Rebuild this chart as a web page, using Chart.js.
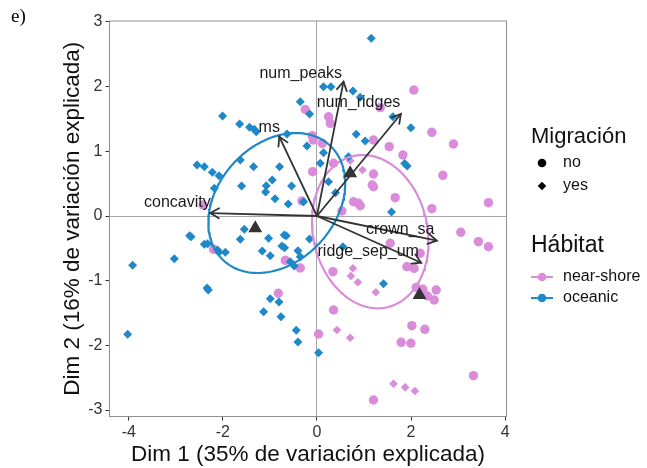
<!DOCTYPE html>
<html><head><meta charset="utf-8">
<script src="https://cdn.jsdelivr.net/npm/chart.js@4/dist/chart.umd.min.js"></script>
<style>html,body{margin:0;padding:0;background:#fff;}canvas{display:block}</style>
</head><body>
<canvas id="c" width="647" height="468"></canvas>
<script>
// ---- data (Dim 1, Dim 2) ----
const oceanicYesX = [-0.355,-0.157,-2.006,-1.644,-1.432,-1.332,-1.290,-0.637,-0.212,-1.629,-2.549,-2.394,-2.224,-2.082,-1.347,-0.795,-0.950,-1.077,-1.092,-0.540,-1.602,-2.182,-0.892,-0.610,1.154,0.140,0.297,0.765,0.920,1.615,1.997,0.835,1.026,0.140,0.070,0.671,1.865,1.918,0.246,0.395,1.585,-0.285,-1.544,-1.629,-1.028,-0.695,-0.652,-2.707,-2.677,-2.394,-2.324,-2.112,-2.082,-1.948,-1.162,-0.992,-0.744,-0.688,-0.404,-0.355,-0.157,-0.567,-0.482,-3.032,-3.918,-2.337,-2.309,-0.992,-0.807,-1.134,-0.765,-0.440,-0.404,-4.024,0.034,0.552,1.415];
const oceanicYesY = [1.767,1.577,1.546,1.423,1.372,1.341,1.304,1.268,1.082,0.866,0.789,0.762,0.676,0.623,0.762,0.762,0.557,0.469,0.371,0.464,0.464,0.428,0.268,0.186,2.748,1.999,1.999,1.933,1.835,1.535,1.365,1.263,1.160,0.979,0.815,0.917,0.812,0.773,0.530,0.360,0.062,0.221,-0.206,-0.360,-0.345,-0.294,-0.305,-0.305,-0.320,-0.438,-0.428,-0.526,-0.561,-0.561,-0.541,-0.614,-0.464,-0.490,-0.537,-0.629,-0.356,-0.707,-0.773,-0.660,-0.762,-1.113,-1.144,-1.279,-1.330,-1.480,-1.557,-1.767,-1.948,-1.829,-2.114,-0.475,-1.047];
const nearNoX = [-0.249,0.246,0.283,1.345,2.061,2.443,2.902,1.202,1.536,1.827,-0.079,-0.100,0.113,0.353,-0.093,1.202,1.175,1.202,2.677,1.663,0.778,0.884,0.920,0.531,2.443,3.646,-0.319,-2.422,-2.197,-0.673,-0.355,-0.822,0.034,3.059,3.433,3.646,1.557,2.195,1.912,2.067,0.340,2.110,2.252,2.535,2.350,2.492,0.353,2.018,2.294,1.791,1.997,3.327,1.202];
const nearNoY = [1.647,1.535,1.433,1.675,1.948,1.294,1.113,1.175,1.072,0.943,1.175,1.242,1.124,0.815,0.685,0.649,0.479,0.453,0.629,0.283,0.221,0.196,0.159,0.077,0.113,0.206,0.232,0.170,-0.515,-0.685,-0.804,-1.195,-1.825,-0.252,-0.397,-0.475,-0.422,-0.577,-0.784,-0.809,-0.861,-1.103,-1.133,-1.144,-1.237,-1.299,-1.454,-1.696,-1.752,-1.953,-1.968,-2.469,-2.845];
const nearYesX = [0.969,0.707,0.765,0.722,0.871,1.253,0.425,0.707,1.627,1.876,2.082];
const nearYesY = [0.711,0.855,-0.809,-0.928,-1.025,-1.180,-1.763,-1.882,-2.593,-2.649,-2.706];
// group mean points (triangles)
const meanX = [-1.311, 0.707, 2.180];
const meanY = [-0.190, 0.660, -1.222];
// variable loadings (arrows) and label anchors
const varNames = ['num_peaks','num_ridges','ms','concavity','crown_sa','ridge_sep_um'];
const varX = [0.565, 1.785, -0.801, -2.267, 2.549, 2.216];
const varY = [2.077, 1.577, 1.226, 0.046, -0.382, -0.722];
const labelX = [-0.344, 0.884, -1.013, -2.968, 1.770, 1.090];
const labelY = [2.196, 1.752, 1.361, 0.201, -0.216, -0.557];
// ellipses: centre x, centre y, x half-range, y half-range, phase
const ellipseOceanic = [-0.854, 0.201, 1.455, 1.082, 1.287];
const ellipseNear = [1.133, -0.242, 1.238, 1.185, 1.700];
const xTicks = [-4, -2, 0, 2, 4];
const yTicks = [-3, -2, -1, 0, 1, 2, 3];
const xTitle = 'Dim 1 (35% de variación explicada)';
const yTitle = 'Dim 2 (16% de variación explicada)';
const legendMig = ['Migración', 'no', 'yes'];
const legendHab = ['Hábitat', 'near-shore', 'oceanic'];

const PINK = '#DA8CDA', BLUE = '#1E88C8', DARK = '#333333';
const FONT = '"Liberation Sans", Arial, Helvetica, sans-serif';

const pts = (xs, ys) => xs.map((x, i) => ({x, y: ys[i]}));
function ellipsePts(p) {
  const out = [];
  const n = 160;
  for (let k = 0; k <= n; k++) {
    const t = 2 * Math.PI * k / n;
    out.push({x: p[0] + p[2] * Math.cos(t), y: p[1] + p[3] * Math.cos(t - p[4])});
  }
  return out;
}

const overlay = {
  id: 'overlay',
  afterDatasetsDraw(chart) {
    const {ctx, chartArea: a} = chart;
    const xs = chart.scales.x, ys = chart.scales.y;
    ctx.save();
    // panel border
    ctx.strokeStyle = '#8f8f8f';
    ctx.lineWidth = 1;
    ctx.strokeRect(a.left, a.top, a.right - a.left, a.bottom - a.top);
    // arrows
    const x0 = xs.getPixelForValue(0), y0 = ys.getPixelForValue(0);
    ctx.strokeStyle = DARK;
    ctx.lineWidth = 1.8;
    ctx.lineCap = 'round';
    for (let i = 0; i < varNames.length; i++) {
      const x1 = xs.getPixelForValue(varX[i]), y1 = ys.getPixelForValue(varY[i]);
      ctx.beginPath(); ctx.moveTo(x0, y0); ctx.lineTo(x1, y1); ctx.stroke();
      const ang = Math.atan2(y1 - y0, x1 - x0), L = 10, w = Math.PI / 6;
      ctx.beginPath();
      ctx.moveTo(x1 - L * Math.cos(ang - w), y1 - L * Math.sin(ang - w));
      ctx.lineTo(x1, y1);
      ctx.lineTo(x1 - L * Math.cos(ang + w), y1 - L * Math.sin(ang + w));
      ctx.stroke();
    }
    // labels
    ctx.fillStyle = '#1a1a1a';
    ctx.font = '16px ' + FONT;
    ctx.textAlign = 'center';
    ctx.textBaseline = 'middle';
    for (let i = 0; i < varNames.length; i++) {
      ctx.fillText(varNames[i], xs.getPixelForValue(labelX[i]), ys.getPixelForValue(labelY[i]));
    }
    ctx.restore();
  },
  afterDraw(chart) {
    const ctx = chart.ctx;
    ctx.save();
    ctx.textAlign = 'left';
    ctx.textBaseline = 'middle';
    ctx.fillStyle = '#000';
    ctx.font = '19px "Liberation Serif", "Times New Roman", serif';
    ctx.fillText('e)', 11, 17);
    // legend Migración
    ctx.fillStyle = '#111';
    ctx.font = '22px ' + FONT;
    ctx.fillText(legendMig[0], 531, 137);
    ctx.font = '16px ' + FONT;
    ctx.fillText(legendMig[1], 563, 163);
    ctx.fillText(legendMig[2], 563, 186);
    ctx.fillStyle = '#000';
    ctx.beginPath(); ctx.arc(542, 163, 4.3, 0, Math.PI * 2); ctx.fill();
    ctx.beginPath(); ctx.moveTo(542, 186 - 4.3); ctx.lineTo(546.3, 186); ctx.lineTo(542, 190.3); ctx.lineTo(537.7, 186); ctx.closePath(); ctx.fill();
    // legend Hábitat
    ctx.fillStyle = '#111';
    ctx.font = '23px ' + FONT;
    ctx.fillText(legendHab[0], 531, 246);
    ctx.font = '16px ' + FONT;
    ctx.fillText(legendHab[1], 563, 277);
    ctx.fillText(legendHab[2], 563, 298);
    [[PINK, 277], [BLUE, 298]].forEach(([c, y]) => {
      ctx.strokeStyle = c; ctx.fillStyle = c; ctx.lineWidth = 2;
      ctx.beginPath(); ctx.moveTo(531, y); ctx.lineTo(553, y); ctx.stroke();
      ctx.beginPath(); ctx.arc(542, y, 4.3, 0, Math.PI * 2); ctx.fill();
    });
    ctx.restore();
  }
};

const gridOpts = {
  drawOnChartArea: true,
  color: c => (c.tick && c.tick.value === 0) ? '#a6a6a6' : 'rgba(0,0,0,0)',
  lineWidth: 1,
  drawTicks: true,
  tickLength: 4,
  tickColor: '#333'
};

new Chart(document.getElementById('c'), {
  type: 'scatter',
  data: {
    datasets: [
      {data: pts(meanX, meanY), pointStyle: 'triangle', pointRadius: 8, backgroundColor: DARK, borderWidth: 0},
      {data: ellipsePts(ellipseOceanic), showLine: true, borderColor: BLUE, borderWidth: 2.2, pointRadius: 0, fill: false, tension: 0},
      {data: ellipsePts(ellipseNear), showLine: true, borderColor: PINK, borderWidth: 2.2, pointRadius: 0, fill: false, tension: 0},
      {data: pts(oceanicYesX, oceanicYesY), pointStyle: 'rectRot', pointRadius: 4.5, backgroundColor: BLUE, borderWidth: 0},
      {data: pts(nearYesX, nearYesY), pointStyle: 'rectRot', pointRadius: 4.3, backgroundColor: PINK, borderWidth: 0},
      {data: pts(nearNoX, nearNoY), pointStyle: 'circle', pointRadius: 4.7, backgroundColor: PINK, borderWidth: 0}
    ]
  },
  options: {
    responsive: false,
    animation: false,
    devicePixelRatio: 1,
    layout: {padding: {left: 0, top: 21, right: 140.5, bottom: 0}},
    plugins: {legend: {display: false}, tooltip: {enabled: false}},
    elements: {point: {hoverRadius: 0}},
    scales: {
      x: {
        type: 'linear', min: -4.41, max: 4.03,
        afterBuildTicks: s => { s.ticks = xTicks.map(v => ({value: v})); },
        afterFit: s => { s.height = 51.5; },
        ticks: {font: {size: 16, family: FONT}, color: '#333', padding: 2},
        grid: gridOpts,
        border: {display: true, color: '#8f8f8f', width: 1},
        title: {display: true, text: xTitle, font: {size: 22.5, family: FONT}, color: '#111', padding: {top: 0, bottom: 0}}
      },
      y: {
        type: 'linear', min: -3.10, max: 3.015,
        afterBuildTicks: s => { s.ticks = yTicks.map(v => ({value: v})); },
        afterFit: s => { s.width = 109.5; },
        ticks: {font: {size: 16, family: FONT}, color: '#333', padding: 3},
        grid: gridOpts,
        border: {display: true, color: '#8f8f8f', width: 1},
        title: {display: true, text: yTitle, font: {size: 22.5, family: FONT}, color: '#111', padding: {top: 59, bottom: 0}}
      }
    }
  },
  plugins: [overlay]
});
</script>
</body></html>
